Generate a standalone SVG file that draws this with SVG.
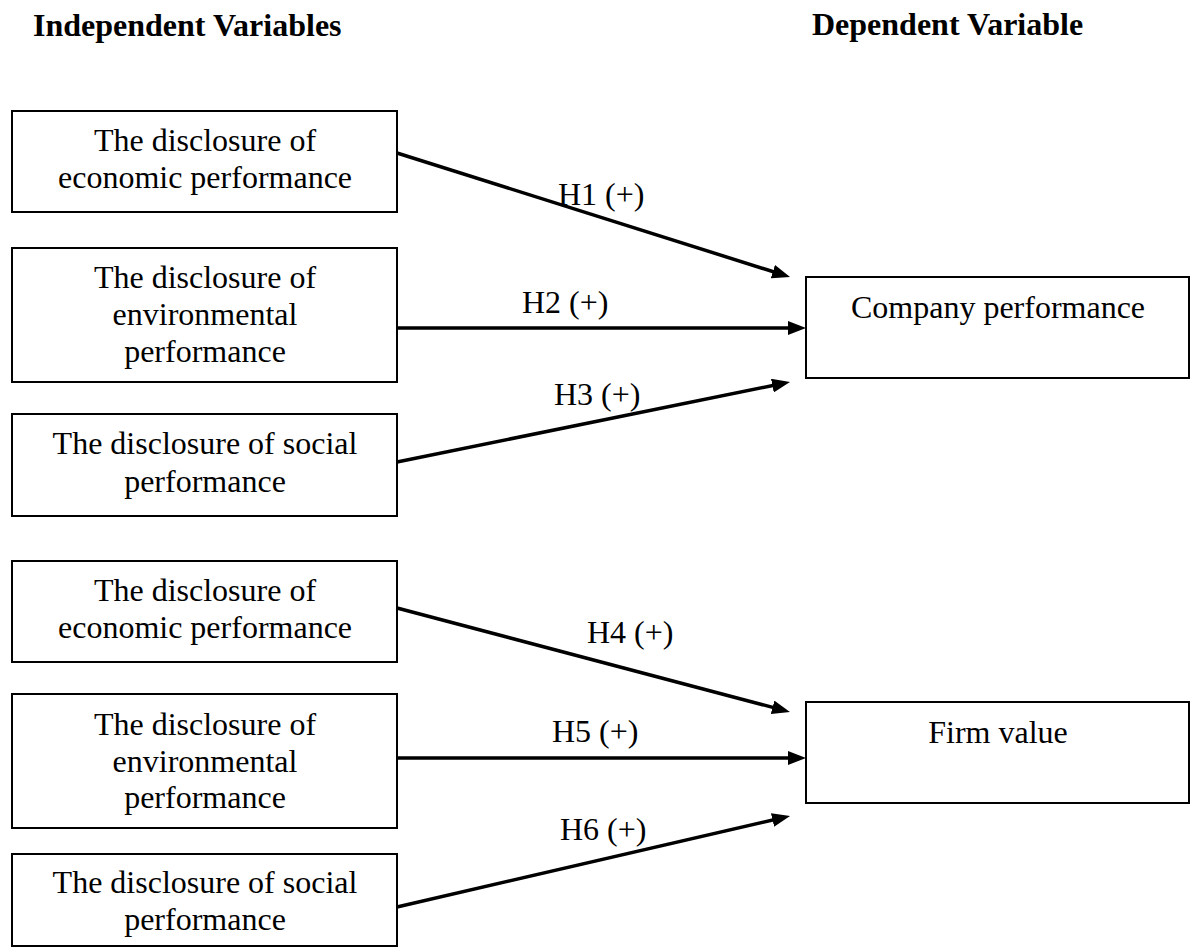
<svg xmlns="http://www.w3.org/2000/svg" width="1190" height="948" viewBox="0 0 1190 948">
<defs>
<style>
text{font-family:"Liberation Serif","Times New Roman",serif;font-size:32px;fill:#000}
.hd{font-weight:bold}
.c{text-anchor:middle}
.box{fill:#fff;stroke:#000;stroke-width:2}
.ln{stroke:#000;stroke-width:3.5;fill:none;marker-end:url(#ah)}
</style>
<marker id="ah" markerUnits="userSpaceOnUse" markerWidth="18" markerHeight="14" refX="8" refY="7" orient="auto" viewBox="0 0 18 14">
<path d="M0,0 L18,7 L0,14 z" fill="#000"/>
</marker>
</defs>
<rect width="1190" height="948" fill="#fff"/>
<g id="headers">
<text class="hd" x="33" y="36">Independent Variables</text>
<text class="hd" x="812" y="35">Dependent Variable</text>
</g>
<g id="n1"><rect class="box" x="12" y="111" width="385" height="101"/>
<text class="c" x="205" y="151">The disclosure of</text><text class="c" x="205" y="188">economic performance</text></g>
<g id="n2"><rect class="box" x="12" y="248" width="385" height="134"/>
<text class="c" x="205" y="288">The disclosure of</text><text class="c" x="205" y="325">environmental</text><text class="c" x="205" y="362">performance</text></g>
<g id="n3"><rect class="box" x="12" y="414" width="385" height="102"/>
<text class="c" x="205" y="454">The disclosure of social</text><text class="c" x="205" y="492">performance</text></g>
<g id="n4"><rect class="box" x="12" y="561" width="385" height="101"/>
<text class="c" x="205" y="601">The disclosure of</text><text class="c" x="205" y="638">economic performance</text></g>
<g id="n5"><rect class="box" x="12" y="694" width="385" height="134"/>
<text class="c" x="205" y="735">The disclosure of</text><text class="c" x="205" y="772">environmental</text><text class="c" x="205" y="808">performance</text></g>
<g id="n6"><rect class="box" x="12" y="854" width="385" height="92"/>
<text class="c" x="205" y="893">The disclosure of social</text><text class="c" x="205" y="930">performance</text></g>
<g id="n7"><rect class="box" x="806" y="277" width="383" height="101"/>
<text class="c" x="998" y="318">Company performance</text></g>
<g id="n8"><rect class="box" x="806" y="702" width="383" height="101"/>
<text class="c" x="998" y="743">Firm value</text></g>
<g id="connectors">
<line class="ln" x1="397" y1="153" x2="780.5" y2="274"/>
<line class="ln" x1="397" y1="328" x2="796" y2="328"/>
<line class="ln" x1="397" y1="462" x2="780.2" y2="384"/>
<line class="ln" x1="397" y1="608" x2="780.3" y2="709.4"/>
<line class="ln" x1="397" y1="758" x2="796" y2="758"/>
<line class="ln" x1="397" y1="907" x2="780.3" y2="818.2"/>
<text x="558" y="205">H1 (+)</text>
<text x="522" y="313">H2 (+)</text>
<text x="554" y="405">H3 (+)</text>
<text x="587" y="643">H4 (+)</text>
<text x="552" y="742">H5 (+)</text>
<text x="560" y="840">H6 (+)</text>
</g>
</svg>
